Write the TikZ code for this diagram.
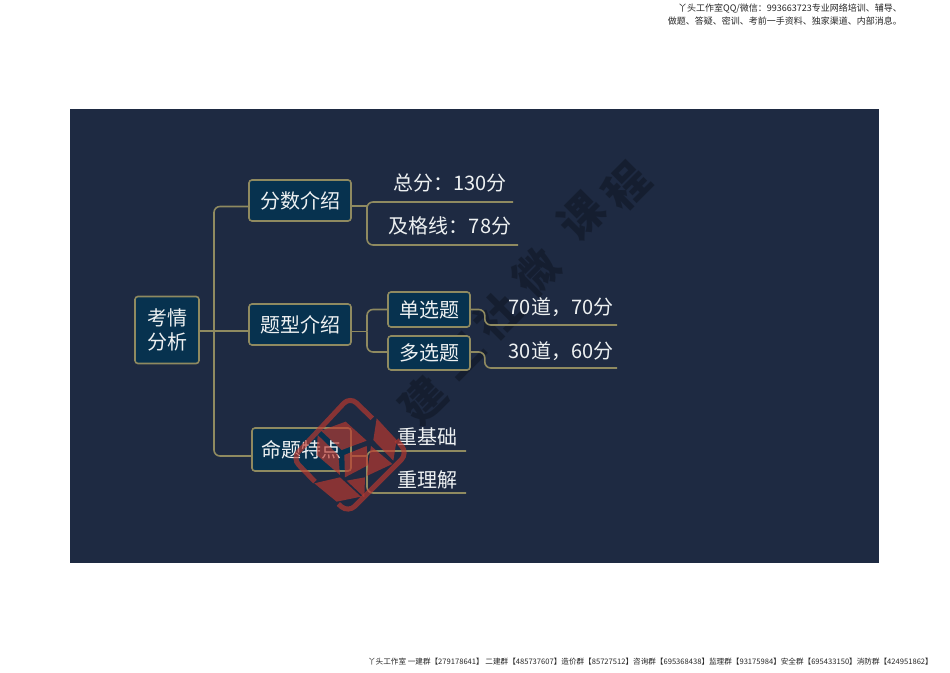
\documentclass[tikz,border=0pt]{standalone}
\usepackage{fontspec}
\setmainfont{Noto Sans CJK SC}
\newfontfamily\cjkblack{Noto Sans CJK SC Black}
\usetikzlibrary{calc}
\definecolor{bgnavy}{HTML}{1E2A42}
\definecolor{boxblue}{HTML}{07324F}
\definecolor{khaki}{HTML}{8F8A60}
\definecolor{textwhite}{HTML}{EEF1F2}
\definecolor{wmark}{HTML}{131B2B}
\definecolor{logored}{HTML}{C0392E}
\tikzset{
  topicbox/.style={draw=khaki,line width=1.6pt,fill=boxblue,rounded corners=3pt,inner sep=0pt,text=textwhite,font=\fontsize{20}{24}\selectfont,align=center},
  leaf/.style={inner sep=0pt,text=textwhite,font=\fontsize{20}{24}\selectfont},
  link/.style={draw=khaki,line width=1.6pt,rounded corners=6pt},
  stamp/.style={inner sep=0pt,text=wmark,opacity=.75,rotate=45,font=\cjkblack\fontsize{44}{44}\selectfont},
  note/.style={inner sep=0pt,text=black!85,font=\fontsize{9}{11}\selectfont},
  logoface/.style={fill=logored,draw=none,opacity=.65},
  logoring/.style={draw=logored,line width=5pt,opacity=.65,rounded corners=9pt,line cap=butt}
}
\begin{document}
\begin{tikzpicture}[x=1pt,y=-1pt]
\useasboundingbox (0,0) rectangle (950,672);
\fill[white] (0,0) rectangle (950,672);
\fill[bgnavy] (70,109) rectangle (879,563);
% calligraphic stamp (lies under the map)
\node[stamp] (w1) at (423,400) {建};
\node[stamp] (w2) at (462,356) {工};
\node[stamp] (w3) at (497,316) {社};
\node[stamp] (w4) at (536,272) {微};
\node[stamp] (w5) at (581,216) {课};
\node[stamp] (w6) at (626,186) {程};
% boxes
\node[topicbox,minimum width=64pt,minimum height=67pt] (root) at (167,330) {考情\\分析};
\node[topicbox,minimum width=102pt,minimum height=41pt] (b1) at (300,200.5) {分数介绍};
\node[topicbox,minimum width=102pt,minimum height=41pt] (b2) at (300,324.5) {题型介绍};
\node[topicbox,minimum width=99pt,minimum height=43pt] (b3) at (301.5,449.5) {命题特点};
\node[topicbox,minimum width=82pt,minimum height=35pt] (s1) at (429,309.5) {单选题};
\node[topicbox,minimum width=82pt,minimum height=34pt] (s2) at (429,353) {多选题};
% leaves
\node[leaf] (l1) at (450,183) {总分：130分};
\node[leaf] (l2) at (450,226) {及格线：78分};
\node[leaf] (l3) at (561,307.5) {70道，70分};
\node[leaf] (l4) at (561,351) {30道，60分};
\node[leaf] (l5) at (427,437) {重基础};
\node[leaf] (l6) at (427,480) {重理解};
% line ends
\coordinate (e1) at (513,202);
\coordinate (e2) at (518,245);
\coordinate (e3) at (617,325);
\coordinate (e4) at (617,368);
\coordinate (e5) at (466,451);
\coordinate (e6) at (466,493);
\coordinate (tr) at (214,331);
\coordinate (j1) at (367,206);
\coordinate (j2) at (367,331.5);
\coordinate (j3) at (367,456);
% connectors
\draw[link] ($(root.east)+(0,1)$) -- ($(b2.west)+(0,6.5)$);
\draw[link] (tr) |- ($(b1.west)+(0,6)$);
\draw[link] (tr) |- ($(b3.west)+(0,6.5)$);
\draw[link] ($(b1.east)+(0,5.5)$) -- (j1);
\draw[link] (j1) |- (e1);
\draw[link] (j1) |- (e2);
\draw[link] ($(b2.east)+(0,7)$) -- (j2);
\draw[link] (j2) |- (s1.west);
\draw[link] (j2) |- ($(s2.west)+(0,-1)$);
\draw[link] (s1.east) -- ++(14,0) |- (e3);
\draw[link] ($(s2.east)+(0,-1)$) -- ++(14,0) |- (e4);
\draw[link] ($(b3.east)+(0,6.5)$) -- (j3);
\draw[link] (j3) |- (e5);
\draw[link] (j3) |- (e6);
% logo
\begin{scope}[shift={(285,390)},x=.3333pt,y=-.3333pt]
\draw[logoring] (262,85) -- (195,20) -- (22,205) -- (90,275);
\draw[logoring] (335,150) -- (368,190) -- (190,368) -- (160,342);
\fill[logoface] (108,122) -- (182,95) -- (245,152) -- (170,180) -- cycle;
\fill[logoface] (98,135) -- (160,195) -- (165,255) -- (95,195) -- cycle;
\fill[logoface] (88,280) -- (165,262) -- (228,320) -- (155,335) -- cycle;
\fill[logoface] (178,195) -- (245,168) -- (250,225) -- (180,262) -- cycle;
\fill[logoface] (275,85) -- (335,150) -- (325,212) -- (265,150) -- cycle;
\fill[logoface] (258,168) -- (322,222) -- (245,258) -- cycle;
\fill[logoface] (185,272) -- (240,262) -- (238,322) -- cycle;
\end{scope}
% header and footer
\node[note,anchor=east] (h1) at (902,8) {丫头工作室QQ/微信：993663723专业网络培训、辅导、};
\node[note,anchor=east] (h2) at (902,21) {做题、答疑、密训、考前一手资料、独家渠道、内部消息。};
\node[note,anchor=east,font=\fontsize{7.6}{9}\selectfont] (f1) at (933,662) {丫头工作室 一建群【279178641】 二建群【485737607】造价群【85727512】咨询群【695368438】监理群【93175984】安全群【695433150】消防群【424951862】};
\end{tikzpicture}
\end{document}
